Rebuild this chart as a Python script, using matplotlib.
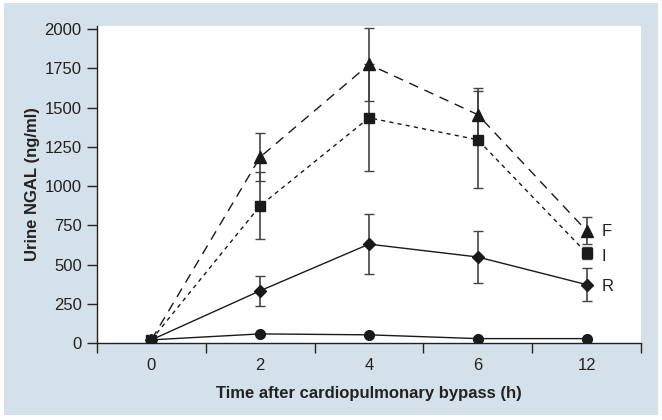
import matplotlib
matplotlib.use("Agg")
import matplotlib.pyplot as plt
from matplotlib.patches import Rectangle
import numpy as np

plt.rcParams['font.family'] = ['Liberation Sans', 'DejaVu Sans']

categories = ["0", "2", "4", "6", "12"]
F_vals = [20, 1185, 1775, 1455, 715]
F_err = [0, 155, 230, 170, 85]
I_vals = [20, 875, 1435, 1295, 573]
I_err = [0, 213, 340, 310, 40]
R_vals = [20, 333, 630, 548, 372]
R_err = [0, 97, 192, 163, 107]
C_vals = [20, 58, 52, 28, 28]
C_err = [0, 8, 8, 6, 6]
series_labels = ["F", "I", "R"]
yticks = [0, 250, 500, 750, 1000, 1250, 1500, 1750, 2000]

fig = plt.figure(figsize=(6.62, 4.20), dpi=100)
fig.patch.set_facecolor("white")
fig.add_artist(Rectangle((4/662, 5/420), (658-4)/662, (417-5)/420,
                         transform=fig.transFigure, facecolor="#d4e1eb",
                         edgecolor="none", zorder=0))

ax = fig.add_axes([97/662, (420-343)/420, (641-97)/662, (343-26)/420])
ax.set_facecolor("white")
x = np.arange(len(categories))

ecol = "#444444"
ekw = dict(ecolor=ecol, elinewidth=1.2, capsize=3.5, capthick=1.0)
ax.errorbar(x, F_vals, yerr=F_err, color="#1a1a1a", lw=1.0, ls=(0, (7, 5)),
            marker="^", ms=8, mfc="#1a1a1a", mec="#1a1a1a", zorder=3, **ekw)
ax.errorbar(x, I_vals, yerr=I_err, color="#1a1a1a", lw=1.0, ls=(0, (3, 3)),
            marker="s", ms=6.5, mfc="#1a1a1a", mec="#1a1a1a", zorder=3, **ekw)
ax.errorbar(x, R_vals, yerr=R_err, color="#1a1a1a", lw=1.0, ls="-",
            marker="D", ms=6, mfc="#1a1a1a", mec="#1a1a1a", zorder=3, **ekw)
ax.errorbar(x, C_vals, yerr=C_err, color="#1a1a1a", lw=1.0, ls="-",
            marker="o", ms=7, mfc="#1a1a1a", mec="#1a1a1a", zorder=3, **ekw)

for lab, yv in zip(series_labels, [710, 550, 362]):
    ax.text(4.14, yv, lab, fontsize=12, color="#222222", va="center", ha="left")

ax.set_xlim(-0.5, 4.5)
ax.set_ylim(0, 2020)
ax.set_xticks(x)
ax.set_xticklabels(categories)
ax.set_xticks(np.arange(-0.5, 5.0, 1.0), minor=True)
ax.tick_params(axis="x", which="major", length=0, pad=11, labelsize=12, colors="#222222")
ax.tick_params(axis="x", which="minor", length=7, width=1, direction="out", color="#222222")
ax.set_yticks(yticks)
ax.tick_params(axis="y", length=7, width=1, direction="out", labelsize=12,
               colors="#222222", pad=4)

for s in ["top", "right"]:
    ax.spines[s].set_visible(False)
for s in ["left", "bottom"]:
    ax.spines[s].set_color("#222222")
    ax.spines[s].set_linewidth(1.0)

ax.set_xlabel("Time after cardiopulmonary bypass (h)", fontsize=12,
              fontweight="bold", color="#222222", labelpad=9)
ax.set_ylabel("Urine NGAL (ng/ml)", fontsize=12, fontweight="bold",
              color="#222222", labelpad=3)

fig.savefig("out.png", dpi=100, facecolor=fig.get_facecolor())
